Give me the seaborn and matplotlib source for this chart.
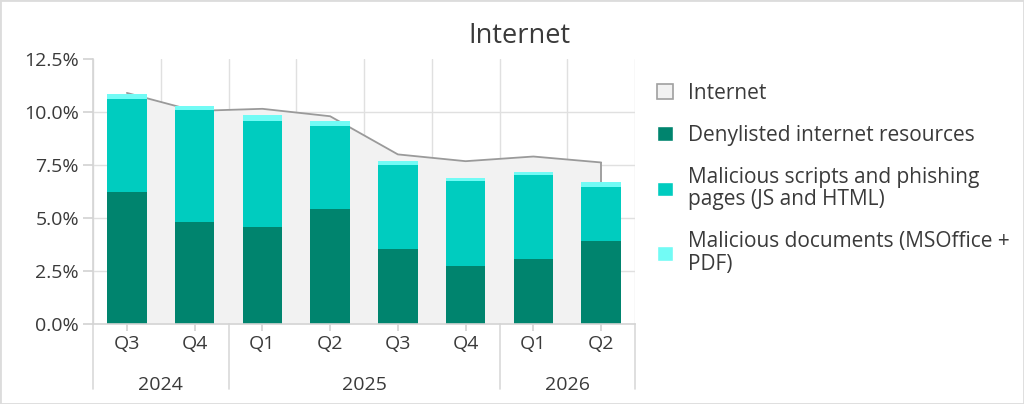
import numpy as np
import pandas as pd
import matplotlib
matplotlib.use("Agg")
import matplotlib.pyplot as plt
from matplotlib.patches import Patch
from matplotlib.ticker import PercentFormatter
import seaborn as sns

# values (percent)
quarters = ["Q3", "Q4", "Q1", "Q2", "Q3", "Q4", "Q1", "Q2"]
years = ["2024", "2024", "2025", "2025", "2025", "2025", "2026", "2026"]
internet = [10.90, 10.05, 10.15, 9.80, 8.00, 7.68, 7.90, 7.62]
denylisted = [6.23, 4.81, 4.56, 5.42, 3.52, 2.75, 3.08, 3.90]
scripts = [4.40, 5.28, 5.03, 3.93, 3.96, 4.00, 3.93, 2.58]
documents = [0.20, 0.21, 0.25, 0.23, 0.19, 0.15, 0.16, 0.20]

labels = ["Internet", "Denylisted internet resources",
          "Malicious scripts and phishing\npages (JS and HTML)",
          "Malicious documents (MSOffice +\nPDF)"]

c_dark = "#00846e"
c_mid = "#00ccbf"
c_light = "#72fbf5"
c_area = "#f2f2f2"
c_line = "#9a9a9a"
c_grid = "#e0e0e0"
c_text = "#3a3a3a"

df = pd.DataFrame({
    "period": [q + " " + y for q, y in zip(quarters, years)],
    "denylisted": denylisted,
})
df["mid"] = df["denylisted"] + np.array(scripts)
df["top"] = df["mid"] + np.array(documents)

sns.set_theme(style="white")
plt.rcParams["font.family"] = ["Open Sans", "DejaVu Sans"]

fig = plt.figure(figsize=(10.24, 4.04), dpi=100)
ax = fig.add_axes([93 / 1024, 1 - 324 / 404, (635 - 93) / 1024, (324 - 59) / 404])

n = len(quarters)
pos = np.arange(n)

# grey "Internet" area behind the bars
ax.fill_between(pos, internet, color=c_area, lw=0, zorder=1)
sns.lineplot(x=pos, y=internet, color=c_line, lw=1.3, ax=ax, zorder=1.5)
ax.vlines(pos[-1], 0, internet[-1], color=c_line, lw=1.3, zorder=1.5)

# stacked bars drawn as layered totals
for col, c in [("top", c_light), ("mid", c_mid), ("denylisted", c_dark)]:
    sns.barplot(data=df, x="period", y=col, color=c, saturation=1,
                width=0.58, ax=ax, zorder=3, linewidth=0)

ax.set_xlim(-0.5, n - 0.5)
ax.set_ylim(0, 12.5)
ax.set_yticks(np.arange(0, 12.6, 2.5))
ax.yaxis.set_major_formatter(PercentFormatter(decimals=1))
ax.set_xticks(pos)
ax.set_xticklabels(quarters)
ax.set_xlabel("")
ax.set_ylabel("")

ax.set_axisbelow(True)
ax.grid(axis="y", color=c_grid, lw=1)
ax.yaxis.get_gridlines()[-1].set_visible(False)
ax.set_xticks(np.arange(-0.5, n), minor=True)
ax.grid(axis="x", which="minor", color=c_grid, lw=1)
ax.tick_params(axis="x", which="minor", length=0)

for s in ["top", "right"]:
    ax.spines[s].set_visible(False)
for s in ["left", "bottom"]:
    ax.spines[s].set_color("#d4d4d4")
    ax.spines[s].set_linewidth(1.2)
ax.spines["bottom"].set_zorder(4)

ax.tick_params(axis="y", length=7, color="#d4d4d4", labelsize=14,
               labelcolor=c_text, pad=3, left=True)
ax.tick_params(axis="x", which="major", length=5, color="#d4d4d4",
               labelsize=14, labelcolor=c_text, pad=3, bottom=True)

# year grouping under the quarter labels
year_names = list(dict.fromkeys(years))
counts = [years.count(y) for y in year_names]
edges = np.concatenate([[0], np.cumsum(counts)]) - 0.5
for e in edges:
    ax.plot([e, e], [0, -0.245], color="#d9d9d9", lw=1.2,
            transform=ax.get_xaxis_transform(), clip_on=False)
for y, a, b in zip(year_names, edges[:-1], edges[1:]):
    ax.text((a + b) / 2, -0.23, y, ha="center", va="center", fontsize=14,
            color=c_text, transform=ax.get_xaxis_transform())

fig.text(519 / 1024, 1 - 36 / 404, "Internet", ha="center", va="center",
         fontsize=19.5, color=c_text)

handles = [Patch(facecolor=c_area, edgecolor="#a0a0a0", lw=1.2),
           Patch(facecolor=c_dark), Patch(facecolor=c_mid), Patch(facecolor=c_light)]
leg = fig.legend(handles, labels, loc="upper left", bbox_to_anchor=(657 / 1024, 1 - 83 / 404),
                 frameon=False, fontsize=15, labelcolor=c_text, borderpad=0,
                 borderaxespad=0, labelspacing=1.0, handlelength=0.75,
                 handleheight=0.7, handletextpad=0.75)
for t in leg.get_texts():
    t.set_linespacing(1.1)

# thin frame round the picture
fig.patches.append(plt.Rectangle((0, 0), 1, 1, transform=fig.transFigure,
                                 fill=False, edgecolor="#dcdcdc", lw=2))

fig.savefig("out.png", dpi=100)
